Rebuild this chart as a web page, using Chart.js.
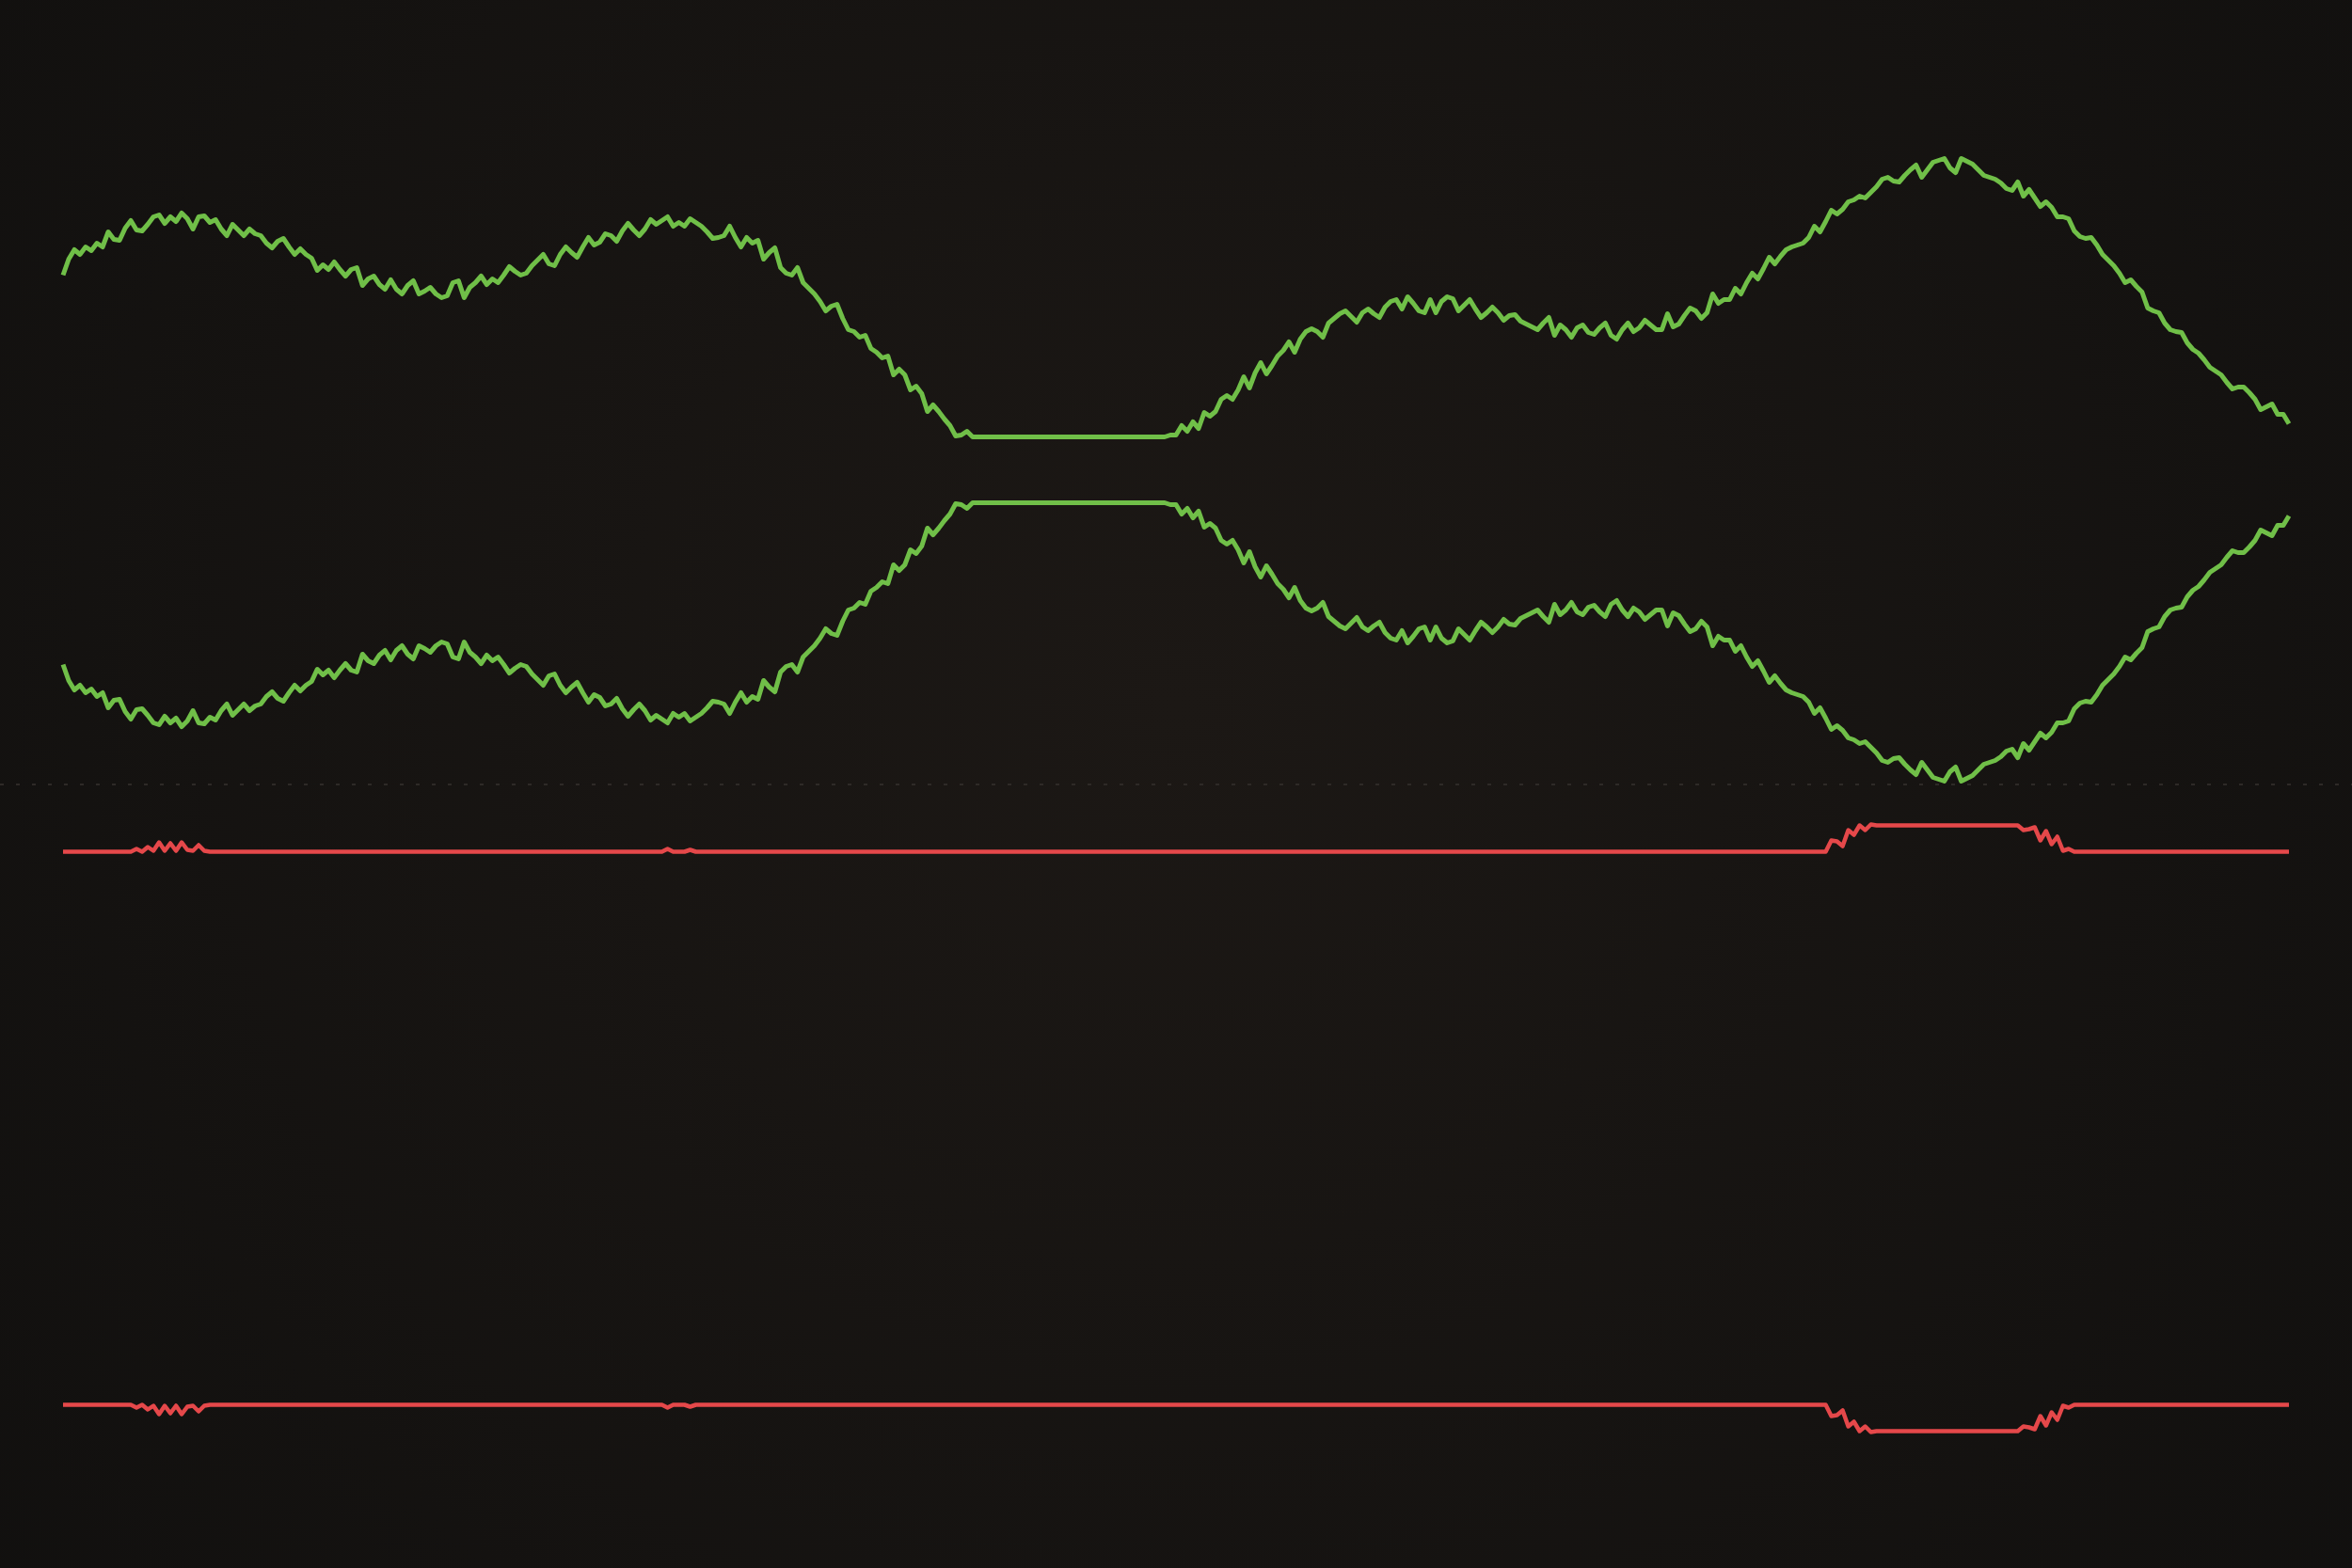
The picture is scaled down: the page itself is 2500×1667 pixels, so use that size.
<!DOCTYPE html>
<html>
<head>
<meta charset="utf-8">
<script src="https://cdn.jsdelivr.net/npm/chart.js@4.4.1/dist/chart.umd.min.js"></script>
<style>
  html, body { margin: 0; padding: 0; background: #131110; }
  #wrap { width: 2500px; height: 1667px; position: relative; }
</style>
</head>
<body>
<div id="wrap"><canvas id="myChart"></canvas></div>
<script>
// gain amplitude (upper green band, mirrored below)
const gain = [
  17.2, 18.9, 19.9, 19.4, 20.2, 19.8, 20.6, 20.2, 21.8, 21.0,
  20.9, 22.2, 23.0, 22.0, 21.9, 22.6, 23.4, 23.6, 22.7, 23.4,
  22.9, 23.8, 23.2, 22.1, 23.4, 23.5, 22.8, 23.1, 22.1, 21.4,
  22.6, 22.0, 21.4, 22.1, 21.6, 21.4, 20.6, 20.1, 20.8, 21.1,
  20.2, 19.4, 20.0, 19.4, 19.0, 17.7, 18.3, 17.8, 18.6, 17.8,
  17.1, 17.8, 18.0, 16.1, 16.8, 17.1, 16.2, 15.7, 16.7, 15.7,
  15.2, 16.1, 16.6, 15.2, 15.5, 15.9, 15.2, 14.8, 15.0, 16.4,
  16.6, 14.8, 15.9, 16.4, 17.1, 16.2, 16.8, 16.4, 17.2, 18.1,
  17.6, 17.2, 17.4, 18.2, 18.8, 19.4, 18.4, 18.2, 19.4, 20.2,
  19.6, 19.1, 20.2, 21.2, 20.4, 20.7, 21.6, 21.4, 20.8, 21.9,
  22.7, 22.0, 21.4, 22.1, 23.1, 22.6, 23.0, 23.4, 22.4, 22.8,
  22.4, 23.2, 22.8, 22.4, 21.8, 21.1, 21.2, 21.4, 22.4, 21.2,
  20.2, 21.2, 20.6, 20.9, 18.9, 19.6, 20.1, 18.0, 17.4, 17.2,
  18.0, 16.4, 15.8, 15.2, 14.4, 13.4, 13.9, 14.1, 12.6, 11.4,
  11.2, 10.6, 10.8, 9.4, 9.0, 8.4, 8.6, 6.6, 7.2, 6.6,
  5.0, 5.4, 4.6, 2.7, 3.4, 2.7, 1.9, 1.2, 0.1, 0.2,
  0.6, 0, 0, 0, 0, 0, 0, 0, 0, 0,
  0, 0, 0, 0, 0, 0, 0, 0, 0, 0,
  0, 0, 0, 0, 0, 0, 0, 0, 0, 0,
  0, 0, 0, 0, 0, 0, 0.2, 0.2, 1.2, 0.6,
  1.6, 0.9, 2.6, 2.2, 2.7, 4.0, 4.4, 4.0, 5.0, 6.4,
  5.2, 6.8, 7.9, 6.7, 7.6, 8.6, 9.2, 10.1, 9.0, 10.4,
  11.2, 11.5, 11.2, 10.6, 12.1, 12.6, 13.1, 13.4, 12.8, 12.2,
  13.2, 13.6, 13.1, 12.7, 13.8, 14.4, 14.6, 13.6, 14.9, 14.2,
  13.4, 13.2, 14.6, 13.2, 14.4, 14.9, 14.7, 13.4, 14.0, 14.6,
  13.6, 12.7, 13.2, 13.8, 13.2, 12.4, 12.9, 13.0, 12.3, 12.0,
  11.7, 11.4, 12.1, 12.7, 10.8, 11.9, 11.4, 10.6, 11.6, 11.9,
  11.1, 10.9, 11.6, 12.1, 10.8, 10.4, 11.4, 12.1, 11.2, 11.6,
  12.4, 11.9, 11.4, 11.4, 13.1, 11.7, 12.0, 12.9, 13.7, 13.4,
  12.6, 13.2, 15.2, 14.2, 14.6, 14.6, 15.8, 15.2, 16.4, 17.4,
  16.8, 17.9, 19.1, 18.4, 19.2, 19.9, 20.2, 20.4, 20.6, 21.2,
  22.4, 21.8, 22.9, 24.1, 23.7, 24.2, 25.0, 25.2, 25.6, 25.4,
  26.0, 26.6, 27.4, 27.6, 27.2, 27.1, 27.8, 28.4, 28.9, 27.6,
  28.4, 29.2, 29.4, 29.6, 28.6, 28.1, 29.6, 29.3, 29.0, 28.4,
  27.8, 27.6, 27.4, 27.0, 26.4, 26.2, 27.1, 25.6, 26.3, 25.4,
  24.5, 25.0, 24.4, 23.4, 23.4, 23.2, 21.9, 21.3, 21.1, 21.2,
  20.4, 19.4, 18.8, 18.2, 17.4, 16.4, 16.7, 16.0, 15.4, 13.7,
  13.4, 13.2, 12.1, 11.4, 11.2, 11.1, 10.0, 9.3, 8.9, 8.2,
  7.4, 7.0, 6.6, 5.8, 5.1, 5.3, 5.3, 4.7, 4.0, 2.9,
  3.2, 3.5, 2.4, 2.4, 1.4
];

// loss amplitude (red band, mirrored below)
const loss = [
  0, 0, 0, 0, 0, 0, 0, 0, 0, 0,
  0, 0, 0, 0.3, 0, 0.5, 0.1, 1.0, 0.1, 0.9,
  0.1, 1.0, 0.2, 0.1, 0.7, 0.1, 0, 0, 0, 0,
  0, 0, 0, 0, 0, 0, 0, 0, 0, 0,
  0, 0, 0, 0, 0, 0, 0, 0, 0, 0,
  0, 0, 0, 0, 0, 0, 0, 0, 0, 0,
  0, 0, 0, 0, 0, 0, 0, 0, 0, 0,
  0, 0, 0, 0, 0, 0, 0, 0, 0, 0,
  0, 0, 0, 0, 0, 0, 0, 0, 0, 0,
  0, 0, 0, 0, 0, 0, 0, 0, 0, 0,
  0, 0, 0, 0, 0, 0, 0, 0.3, 0, 0,
  0, 0.2, 0, 0, 0, 0, 0, 0, 0, 0,
  0, 0, 0, 0, 0, 0, 0, 0, 0, 0,
  0, 0, 0, 0, 0, 0, 0, 0, 0, 0,
  0, 0, 0, 0, 0, 0, 0, 0, 0, 0,
  0, 0, 0, 0, 0, 0, 0, 0, 0, 0,
  0, 0, 0, 0, 0, 0, 0, 0, 0, 0,
  0, 0, 0, 0, 0, 0, 0, 0, 0, 0,
  0, 0, 0, 0, 0, 0, 0, 0, 0, 0,
  0, 0, 0, 0, 0, 0, 0, 0, 0, 0,
  0, 0, 0, 0, 0, 0, 0, 0, 0, 0,
  0, 0, 0, 0, 0, 0, 0, 0, 0, 0,
  0, 0, 0, 0, 0, 0, 0, 0, 0, 0,
  0, 0, 0, 0, 0, 0, 0, 0, 0, 0,
  0, 0, 0, 0, 0, 0, 0, 0, 0, 0,
  0, 0, 0, 0, 0, 0, 0, 0, 0, 0,
  0, 0, 0, 0, 0, 0, 0, 0, 0, 0,
  0, 0, 0, 0, 0, 0, 0, 0, 0, 0,
  0, 0, 0, 0, 0, 0, 0, 0, 0, 0,
  0, 0, 0, 0, 0, 0, 0, 0, 0, 0,
  0, 0, 0, 0, 0, 0, 0, 0, 0, 0,
  0, 0, 0, 1.2, 1.1, 0.6, 2.3, 1.8, 2.8, 2.3,
  2.9, 2.8, 2.8, 2.8, 2.8, 2.8, 2.8, 2.8, 2.8, 2.8,
  2.8, 2.8, 2.8, 2.8, 2.8, 2.8, 2.8, 2.8, 2.8, 2.8,
  2.8, 2.8, 2.8, 2.8, 2.8, 2.8, 2.8, 2.3, 2.4, 2.6,
  1.2, 2.2, 0.8, 1.6, 0.1, 0.3, 0, 0, 0, 0,
  0, 0, 0, 0, 0, 0, 0, 0, 0, 0,
  0, 0, 0, 0, 0, 0, 0, 0, 0, 0,
  0, 0, 0, 0, 0, 0, 0, 0, 0, 0,
  0, 0, 0, 0, 0
];

// band centres and half gaps
const gainMid = 33.4, gainGap = 3.5;
const lossMid = -36.6, lossGap = 29.4;

const green = "#70bf48";
const red = "#e5484a";

function band(values, mid, gap, sign) {
  return values.map((v, i) => ({ x: i, y: mid + sign * (gap + v) }));
}

// background glow
const bgPlugin = {
  id: "bg",
  beforeDraw(chart) {
    const c = chart.ctx;
    const w = chart.width, h = chart.height;
    const g = c.createRadialGradient(w * 0.5, h * 0.45, 0, w * 0.5, h * 0.45, w * 0.7);
    g.addColorStop(0, "#1c1815");
    g.addColorStop(1, "#100f0e");
    c.save();
    c.fillStyle = g;
    c.fillRect(0, 0, w, h);
    c.restore();
  },
};

const ctx = document.getElementById("myChart").getContext("2d");
const last = gain.length - 1;
const side = 11.16;

new Chart(ctx, {
  type: "line",
  data: {
    datasets: [
      { data: band(gain, gainMid, gainGap, 1), borderColor: green, borderWidth: 5 },
      { data: band(gain, gainMid, gainGap, -1), borderColor: green, borderWidth: 5 },
      { data: band(loss, lossMid, lossGap, 1), borderColor: red, borderWidth: 4.5 },
      { data: band(loss, lossMid, lossGap, -1), borderColor: red, borderWidth: 4.5 },
    ],
  },
  options: {
    responsive: true,
    maintainAspectRatio: false,
    animation: false,
    layout: { padding: 0 },
    elements: {
      point: { radius: 0 },
      line: { tension: 0, borderJoinStyle: "round", fill: false },
    },
    plugins: { legend: { display: false }, tooltip: { enabled: false } },
    scales: {
      x: { type: "linear", min: -side, max: last + side, display: false },
      y: {
        min: -83.35,
        max: 83.35,
        ticks: { display: false },
        grid: {
          drawTicks: false,
          lineWidth: 2,
          color: (c) => (c.tick && c.tick.value === 0 ? "#2e2a27" : "rgba(0,0,0,0)"),
        },
        border: { display: false, dash: [4, 13] },
      },
    },
  },
  plugins: [bgPlugin],
});
</script>
</body>
</html>
